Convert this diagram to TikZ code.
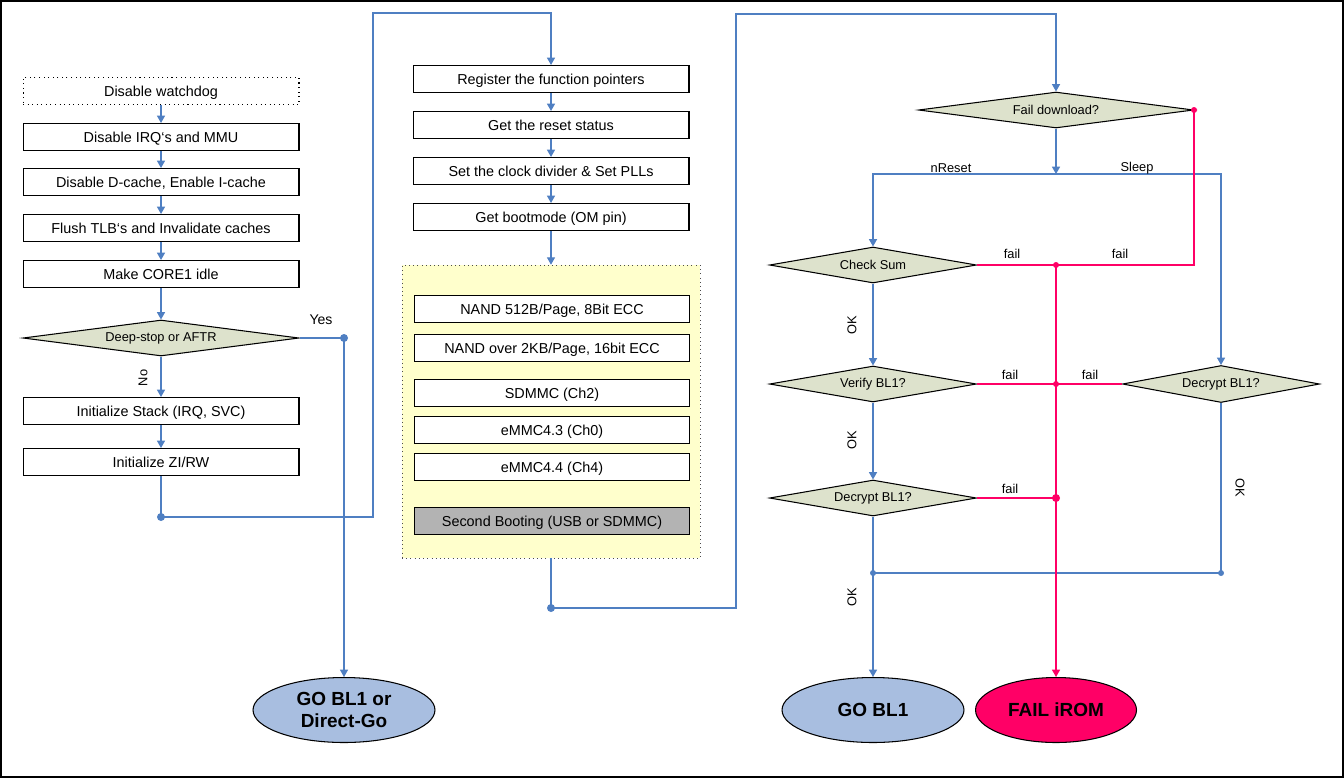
\documentclass[tikz,border=0pt]{standalone}
\usepackage{fontspec}
\setmainfont{Liberation Sans}
\usetikzlibrary{arrows.meta, shapes.geometric}

\definecolor{lineblue}{HTML}{4F7FC2}
\definecolor{failred}{HTML}{FF0066}
\definecolor{decfill}{HTML}{DDE2CC}
\definecolor{goblue}{HTML}{A8BEE0}
\definecolor{bootyellow}{HTML}{FFFFCC}
\definecolor{secgray}{HTML}{B3B3B3}

\begin{document}
\begin{tikzpicture}[x=0.02cm, y=-0.02cm,
    stepbox/.style={draw, fill=white, line width=0.6pt, inner sep=0pt, minimum width=5.52cm, minimum height=0.54cm, text height=8pt, text depth=1.4pt, font=\fontsize{8.2}{9.8}\selectfont},
    devbox/.style={stepbox, minimum width=5.5cm},
    decision/.style={diamond, draw, fill=decfill, line width=0.6pt, inner sep=0pt, aspect=6, minimum height=0.72cm, font=\fontsize{7.3}{8.5}\selectfont},
    endbox/.style={ellipse, draw, line width=0.6pt, inner sep=0pt, minimum width=3.64cm, minimum height=1.3cm, align=center, font=\fontsize{10.8}{12.5}\selectfont\bfseries},
    lbl/.style={inner sep=1pt, font=\fontsize{7.3}{8.5}\selectfont},
    link/.style={draw=lineblue, line width=0.7pt},
    flow/.style={link, -{Triangle[width=4.6pt, length=4.2pt]}},
    failline/.style={draw=failred, line width=0.7pt},
    failflow/.style={failline, -{Triangle[width=4.6pt, length=4.2pt]}},
    bdot/.style={circle, fill=lineblue, inner sep=0pt, minimum size=1.6mm},
    rdot/.style={circle, fill=failred, inner sep=0pt, minimum size=1.6mm}
  ]
    \useasboundingbox (0,0) rectangle (1344,778);
    \draw[line width=1.2pt] (1,1) rectangle (1343,777);

    % left column
    \node[stepbox, dotted] (wdog) at (161,91) {Disable watchdog};
    \node[stepbox] (irq) at (161,137) {Disable IRQ`s and MMU};
    \node[stepbox] (dcache) at (161,182) {Disable D-cache, Enable I-cache};
    \node[stepbox] (tlb) at (161,228) {Flush TLB`s and Invalidate caches};
    \node[stepbox] (core1) at (161,274) {Make CORE1 idle};
    \node[decision, minimum width=5.52cm] (deep) at (161,338) {Deep-stop or AFTR};
    \node[stepbox] (stack) at (161,411) {Initialize Stack (IRQ, SVC)};
    \node[stepbox] (zirw) at (161,462) {Initialize ZI/RW};
    \node[endbox, fill=goblue] (direct) at (344,710) {GO BL1 or\\Direct-Go};

    % middle column
    \node[stepbox] (funcptr) at (551,79) {Register the function pointers};
    \node[stepbox] (rststat) at (551,125) {Get the reset status};
    \node[stepbox] (clkdiv) at (551,171) {Set the clock divider \& Set PLLs};
    \node[stepbox] (bootmode) at (551,217) {Get bootmode (OM pin)};
    \node[draw=black!70, fill=bootyellow, dotted, minimum width=5.96cm, minimum height=5.86cm] (devices) at (551,411.5) {};
    \node[devbox] (nand512) at (552,309) {NAND 512B/Page, 8Bit ECC};
    \node[devbox] (nand2k) at (552,348) {NAND over 2KB/Page, 16bit ECC};
    \node[devbox] (sdmmc) at (552,393) {SDMMC (Ch2)};
    \node[devbox] (emmc43) at (552,430) {eMMC4.3 (Ch0)};
    \node[devbox] (emmc44) at (552,467) {eMMC4.4 (Ch4)};
    \node[devbox, fill=secgray] (second) at (552,521) {Second Booting (USB or SDMMC)};

    % right part
    \node[decision, minimum width=5.5cm] (faildl) at (1056,110) {Fail download?};
    \node[decision, minimum width=4.14cm] (chksum) at (873,265) {Check Sum};
    \node[decision, minimum width=4.14cm] (verify) at (873,384) {Verify BL1?};
    \node[decision, minimum width=4.14cm] (decrl) at (873,498) {Decrypt BL1?};
    \node[decision, minimum width=3.94cm, minimum height=0.74cm] (decrr) at (1221,384) {Decrypt BL1?};
    \node[endbox, fill=goblue] (gobl1) at (873,710) {GO BL1};
    \node[endbox, fill=failred, minimum width=3.22cm] (failrom) at (1056,710) {FAIL iROM};

    % junctions
    \coordinate (ja) at (161,517);
    \coordinate (jb) at (373,13);
    \coordinate (yes) at (344,338);
    \coordinate (jc) at (551,608);
    \coordinate (jd) at (736,14);
    \coordinate (split) at (1056,174);
    \coordinate (jok) at (873,573);
    \coordinate (jokr) at (1221,573);
    \coordinate (f1) at (1056,265);
    \coordinate (f2) at (1056,384);
    \coordinate (f3) at (1056,498);

    % left connectors
    \draw[flow] (wdog) -- (irq);
    \draw[flow] (irq) -- (dcache);
    \draw[flow] (dcache) -- (tlb);
    \draw[flow] (tlb) -- (core1);
    \draw[flow] (core1) -- (deep);
    \draw[flow] (deep) -- (stack);
    \draw[flow] (stack) -- (zirw);
    \draw[flow] (deep.east) -- (yes) -- (direct);
    \draw[flow] (zirw) -- (ja) -| (jb) -| (funcptr);
    \node[lbl, font=\fontsize{8}{9}\selectfont] (yeslbl) at (321,320) {Yes};
    \node[lbl, rotate=90] (nolbl) at (143,378) {No};

    % middle connectors
    \draw[flow] (funcptr) -- (rststat);
    \draw[flow] (rststat) -- (clkdiv);
    \draw[flow] (clkdiv) -- (bootmode);
    \draw[flow] (bootmode) -- (devices);
    \draw[flow] (devices) -- (jc) -| (jd) -| (faildl);

    % right connectors
    \draw[flow] (faildl) -- (split);
    \draw[flow] (split) -| (chksum);
    \draw[flow] (split) -| (decrr);
    \draw[flow] (chksum) -- (verify);
    \draw[flow] (verify) -- (decrl);
    \draw[flow] (decrl) -- (jok) -- (gobl1);
    \draw[link] (decrr) -- (jokr) -- (jok);
    \draw[failline] (faildl.east) |- (f1);
    \draw[failline] (chksum.east) -- (f1);
    \draw[failline] (verify.east) -- (f2);
    \draw[failline] (decrr.west) -- (f2);
    \draw[failline] (decrl.east) -- (f3);
    \draw[failflow] (f1) -- (failrom);

    \node[lbl] (nreset) at (951,168) {nReset};
    \node[lbl] (sleep) at (1137,168) {Sleep};
    \node[lbl] (fail1) at (1012,254) {fail};
    \node[lbl] (fail2) at (1120,254) {fail};
    \node[lbl] (fail3) at (1010,375) {fail};
    \node[lbl] (fail4) at (1090,375) {fail};
    \node[lbl] (fail5) at (1010,489) {fail};
    \node[lbl, rotate=90] (ok1) at (852,325) {OK};
    \node[lbl, rotate=90] (ok2) at (852,440) {OK};
    \node[lbl, rotate=90] (ok3) at (852,597) {OK};
    \node[lbl, rotate=-90] (ok4) at (1240,488) {OK};

    % dots
    \node[bdot] at (ja) {};
    \node[bdot] at (yes) {};
    \node[bdot] at (jc) {};
    \node[bdot, minimum size=1.2mm] at (jok) {};
    \node[bdot, minimum size=1.2mm] at (jokr) {};
    \node[rdot, minimum size=1.2mm] at (faildl.east) {};
    \node[rdot, minimum size=1.2mm] at (f1) {};
    \node[rdot, minimum size=1.2mm] at (f2) {};
    \node[rdot] at (f3) {};
\end{tikzpicture}
\end{document}
